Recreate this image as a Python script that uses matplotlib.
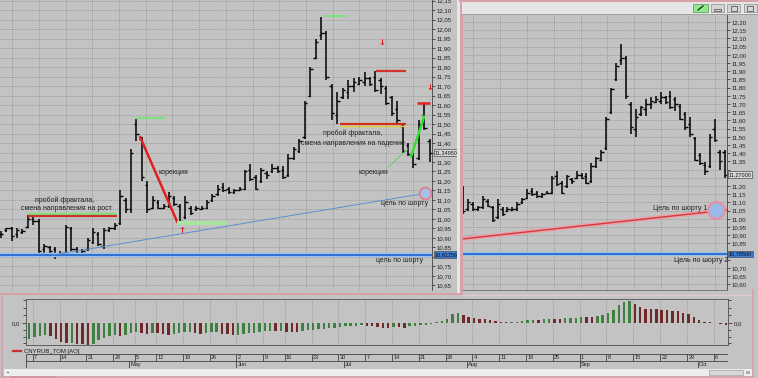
import matplotlib
matplotlib.use('Agg')
import matplotlib.pyplot as plt
from matplotlib.patches import Rectangle
from matplotlib.lines import Line2D
from matplotlib.transforms import blended_transform_factory
import numpy as np
import pandas as pd

plt.rcParams['font.family'] = ['Liberation Sans', 'DejaVu Sans']

# daily bars CNYRUB_TOM
opens = [10.92, 10.94, 10.95, 10.92, 10.93, 10.96, 11.00, 10.99, 10.84, 10.85,
         10.84, 10.81, 10.82, 10.95, 10.84, 10.82, 10.84, 10.88, 10.92, 10.86,
         10.94, 10.95, 10.98, 11.10, 11.05, 11.50, 11.42, 11.18, 11.06, 11.09,
         11.06, 11.07, 11.11, 11.07, 11.01, 11.06, 11.05, 11.055, 11.06, 11.10,
         11.13, 11.17, 11.16, 11.14, 11.155, 11.16, 11.26, 11.22, 11.20, 11.24,
         11.25, 11.27, 11.26, 11.23, 11.32, 11.36, 11.43, 11.65, 11.85, 11.97,
         11.98, 11.70, 11.55, 11.64, 11.67, 11.70, 11.71, 11.72, 11.74, 11.75,
         11.73, 11.69, 11.64, 11.58, 11.49, 11.39, 11.33, 11.32, 11.55, 11.41,
         11.41]
highs = [10.935, 10.955, 10.96, 10.955, 10.945, 11.02, 11.01, 11.00, 10.87, 10.86,
         10.85, 10.83, 10.97, 10.96, 10.85, 10.84, 10.90, 10.95, 10.93, 10.95,
         10.96, 10.98, 11.15, 11.11, 11.37, 11.53, 11.43, 11.20, 11.12, 11.10,
         11.08, 11.14, 11.12, 11.08, 11.12, 11.07, 11.07, 11.07, 11.10, 11.13,
         11.18, 11.19, 11.17, 11.16, 11.17, 11.26, 11.29, 11.23, 11.27, 11.25,
         11.29, 11.28, 11.28, 11.34, 11.38, 11.42, 11.62, 11.80, 11.95, 12.065,
         11.99, 11.71, 11.67, 11.69, 11.73, 11.74, 11.75, 11.775, 11.75, 11.78,
         11.74, 11.70, 11.65, 11.62, 11.50, 11.40, 11.345, 11.52, 11.61, 11.42,
         11.42]
lows = [10.90, 10.93, 10.885, 10.90, 10.92, 10.95, 10.97, 10.82, 10.82, 10.80,
        10.79, 10.80, 10.81, 10.83, 10.81, 10.81, 10.83, 10.87, 10.86, 10.84,
        10.93, 10.94, 10.97, 11.03, 11.03, 11.41, 11.20, 11.03, 11.05, 11.05,
        11.05, 11.06, 11.07, 10.98, 11.00, 11.02, 11.04, 11.045, 11.05, 11.09,
        11.12, 11.14, 11.13, 11.13, 11.15, 11.15, 11.20, 11.15, 11.19, 11.21,
        11.24, 11.24, 11.21, 11.22, 11.31, 11.35, 11.42, 11.64, 11.84, 11.94,
        11.73, 11.52, 11.50, 11.63, 11.63, 11.67, 11.705, 11.70, 11.70, 11.67,
        11.66, 11.60, 11.54, 11.50, 11.35, 11.33, 11.27, 11.31, 11.47, 11.30,
        11.25]
closes = [10.92, 10.95, 10.91, 10.94, 10.935, 11.00, 10.99, 10.83, 10.86, 10.83,
          10.81, 10.82, 10.96, 10.84, 10.82, 10.83, 10.89, 10.93, 10.87, 10.94,
          10.95, 10.97, 11.12, 11.05, 11.35, 11.45, 11.22, 11.05, 11.10, 11.06,
          11.07, 11.12, 11.08, 10.99, 11.09, 11.03, 11.06, 11.06, 11.09, 11.12,
          11.16, 11.15, 11.14, 11.15, 11.16, 11.25, 11.21, 11.16, 11.26, 11.23,
          11.27, 11.25, 11.22, 11.32, 11.37, 11.41, 11.61, 11.79, 11.93, 11.98,
          11.75, 11.56, 11.62, 11.68, 11.70, 11.72, 11.73, 11.74, 11.71, 11.68,
          11.70, 11.61, 11.56, 11.52, 11.36, 11.34, 11.29, 11.50, 11.48, 11.35,
          11.27]

# Awesome Oscillator, one value per trading day
ao = [-0.157, -0.140, -0.133, -0.123, -0.133, -0.157, -0.190, -0.200, -0.197, -0.207,
      -0.213, -0.223, -0.213, -0.173, -0.147, -0.133, -0.117, -0.133, -0.117, -0.100,
      -0.090, -0.100, -0.113, -0.100, -0.103, -0.107, -0.117, -0.107, -0.097, -0.090,
      -0.088, -0.100, -0.107, -0.100, -0.090, -0.087, -0.107, -0.113, -0.123, -0.117,
      -0.107, -0.100, -0.097, -0.090, -0.083, -0.080, -0.083, -0.080, -0.087, -0.090,
      -0.092, -0.080, -0.073, -0.067, -0.063, -0.057, -0.053, -0.047, -0.040, -0.033,
      -0.030, -0.027, -0.023, -0.027, -0.033, -0.040,
      -0.047, -0.049, -0.040, -0.043, -0.045, -0.033, -0.030, -0.023, -0.020, -0.013,
      0.010, 0.020, 0.043, 0.087, 0.100, 0.077, 0.060, 0.053, 0.043, 0.040,
      0.027, 0.020, 0.013, 0.007, 0.008, 0.010, 0.017, 0.033, 0.035, 0.033,
      0.037, 0.040, 0.039, 0.038, 0.053, 0.054, 0.055, 0.060, 0.059, 0.058,
      0.067, 0.077, 0.100, 0.133, 0.177, 0.210, 0.217, 0.187, 0.160, 0.143,
      0.142, 0.137, 0.133, 0.127, 0.120, 0.117, 0.100, 0.087, 0.060, 0.033,
      0.010, 0.007, 0.003, -0.007, -0.023]
holidays = ['2025-05-01', '2025-05-09', '2025-06-12']
dates = pd.bdate_range('2025-04-04', '2025-10-08', freq='C', holidays=holidays)

last_left, target_left = 11.34950, 10.81256
last_right, target_right = 11.27000, 10.78500

# trade marks on the left chart (bar index, price)
frac_up = (5, 21.5, 11.02)
frac_up2 = (24.7, 30.3, 11.53)
corr_down = ([25.7, 32.5], [11.43, 10.985])
low_mark = (32.5, 41.9, 10.98)
peak_mark = (59.4, 63.8, 12.07)
frac_top = (69.1, 74.6, 11.78)
frac_down = (62.5, 74.6, 11.495)
top_last = (76.7, 79.1, 11.61)
corr_up = ([75.6, 78.0], [11.33, 11.54])
corr_thin = ([71.3, 75.0], [11.27, 11.37])
trend_l = ([9.5, 78.2], [10.81, 11.135])
trend_r = ([26.8, 80.44], [10.877, 11.054])
circle_r = (78.2, 11.054)

BG = '#c3c3c3'
GRID = '#8e8e8e'
PINK = '#d8a0a8'
W, H = 758, 378

fig = plt.figure(figsize=(7.58, 3.78), dpi=100, facecolor=BG)


def rect(x0, y0, x1, y1):
    return [x0 / W, 1 - y1 / H, (x1 - x0) / W, (y1 - y0) / H]


def box(x0, y0, x1, y1, fc, ec='none', lw=0, z=1):
    fig.add_artist(Rectangle((x0 / W, 1 - y1 / H), (x1 - x0) / W, (y1 - y0) / H,
                             transform=fig.transFigure, fc=fc, ec=ec, lw=lw, zorder=z))


def fline(xs, ys, color, lw):
    fig.add_artist(Line2D([x / W for x in xs], [1 - y / H for y in ys],
                          transform=fig.transFigure, color=color, lw=lw))


def ftext(x, y, s, size=5, ha='center', color='#202020'):
    fig.text(x / W, 1 - y / H, s, fontsize=size, ha=ha, va='center', color=color)


def ohlc(ax, x, tick):
    ax.vlines(x, lows, highs, color='black', lw=1.1)
    ax.hlines(opens, x - tick, x, color='black', lw=1.0)
    ax.hlines(closes, x, x + tick, color='black', lw=1.0)


def style_price(ax, ylim, ticks, tags, gap):
    ax.set_facecolor(BG)
    ax.set_ylim(*ylim)
    ax.yaxis.tick_right()
    ax.set_yticks(ticks)
    # labels hidden under the price tags
    labels = ['' if min(abs(t - v) for v in tags) < gap else f'{t:.2f}'.replace('.', ',')
              for t in ticks]
    ax.set_yticklabels(labels)
    ax.tick_params(axis='y', labelsize=4.3, length=2, width=0.5, pad=1.5, colors='#202020')
    ax.tick_params(axis='x', bottom=False, labelbottom=False)
    for s in ['top', 'left', 'bottom']:
        ax.spines[s].set_visible(False)
    ax.spines['right'].set_color('#404040')
    ax.spines['right'].set_linewidth(0.6)
    ax.grid(axis='y', color=GRID, ls=(0, (1.5, 1.5)), lw=0.5)


def price_tag(ax, y, txt, fc):
    tr = blended_transform_factory(ax.transAxes, ax.transData)
    ax.text(1.006, y, txt, transform=tr, fontsize=4, color='#101010', va='center', ha='left',
            bbox=dict(boxstyle='square,pad=0.15', fc=fc, ec='#505050', lw=0.5),
            zorder=6, clip_on=False)


n = len(opens)
xs = np.arange(n)

# ---------- left chart ----------
ax1 = fig.add_axes(rect(0, 0, 432, 290))
style_price(ax1, (10.626, 12.153), np.round(np.arange(10.65, 12.151, 0.05), 2),
            [last_left, target_left], 0.036)
ax1.set_xlim(-0.13, 79.43)
for gx in np.arange(2.1, 79, 4.92):
    ax1.axvline(gx, color=GRID, ls=(0, (1.5, 1.5)), lw=0.5)
ohlc(ax1, xs, 0.45)

ax1.axhline(target_left, color='#9cc0ec', lw=3.2, zorder=3)
ax1.axhline(target_left, color='#2f6fd0', lw=1.4, zorder=3)
ax1.plot(*trend_l, color='#5b8fd0', lw=0.7, zorder=3)
ax1.plot(trend_l[0][1], trend_l[1][1], 'o', ms=8.5, mfc='#a8c0e8', mec='#e07a8c', mew=1.2, zorder=4)

a, b, lv = frac_up
ax1.hlines(lv + 0.008, a, b, color='#7fe07f', lw=1.6, zorder=3)
ax1.hlines(lv - 0.006, a, b, color='#d03030', lw=1.6, zorder=3)
a, b, lv = frac_up2
ax1.hlines(lv, a, b, color='#7fe07f', lw=1.6, zorder=3)
ax1.plot(*corr_down, color='#e02020', lw=1.8, zorder=3)
a, b, lv = low_mark
ax1.hlines(lv, a, b, color='#a8e4a0', lw=3.0, zorder=3)
a, b, lv = peak_mark
ax1.hlines(lv, a, b, color='#7fe07f', lw=1.4, zorder=3)
a, b, lv = frac_top
ax1.hlines(lv + 0.005, a, b, color='#9ae08a', lw=1.0, zorder=3)
ax1.hlines(lv - 0.002, a, b, color='#d83030', lw=1.6, zorder=3)
a, b, lv = frac_down
ax1.hlines(lv + 0.004, a, b, color='#d03020', lw=1.6, zorder=3)
ax1.hlines(lv - 0.006, a, b, color='#e0d040', lw=1.0, zorder=3)
a, b, lv = top_last
ax1.hlines(lv, a, b, color='#e02020', lw=1.8, zorder=3)
ax1.plot(*corr_thin, color='#60d060', lw=0.6, zorder=3)
ax1.plot(*corr_up, color='#30e030', lw=1.8, zorder=3)

ax1.text(33.4, 10.94, '↑', color='#e02020', fontsize=6, ha='center', va='center',
         family='DejaVu Sans', fontweight='bold')
ax1.text(70.2, 11.93, '↓', color='#e02020', fontsize=6, ha='center', va='center',
         family='DejaVu Sans', fontweight='bold')
ax1.text(79.1, 11.69, '↓', color='#e02020', fontsize=6, ha='center', va='center',
         family='DejaVu Sans', fontweight='bold', clip_on=False)

price_tag(ax1, last_left, f'{last_left:.5f}'.replace('.', ','), '#d8d8d8')
price_tag(ax1, target_left, f'{target_left:.5f}'.replace('.', ','), '#3a7ad8')

ftext(65, 200, 'пробой фрактала,')
ftext(66, 209, 'смена направления на рост')
ftext(173, 172, 'корекция')
ftext(353, 133, 'пробой фрактала,')
ftext(353, 143, 'смена направления на падение')
ftext(373, 173, 'корекция')
ftext(405, 203, 'цель по шорту')
ftext(400, 260, 'цель по шорту')

# ---------- right chart ----------
ax2 = fig.add_axes(rect(462, 15, 727, 290))
style_price(ax2, (10.566, 12.243), np.round(np.arange(10.60, 12.201, 0.05), 2),
            [last_right, target_right], 0.04)
ax2.spines['bottom'].set_visible(True)
ax2.spines['bottom'].set_color('#707070')
ax2.spines['bottom'].set_linewidth(0.6)
ax2.set_xlim(26.8, 80.44)
for px in [473, 500, 527, 554, 581, 607, 634, 661, 688, 715]:
    ax2.axvline(27 + (px - 463) / 4.94, color=GRID, ls=(0, (1.5, 1.5)), lw=0.5)
ohlc(ax2, xs, 0.5)
ax2.axhline(target_right, color='#9cc0ec', lw=3.2, zorder=3)
ax2.axhline(target_right, color='#2f6fd0', lw=1.4, zorder=3)
ax2.plot(*trend_r, color='#eaa0a6', lw=3.0, zorder=3)
ax2.plot(*trend_r, color='#d03a40', lw=1.0, zorder=3)
ax2.plot(*circle_r, 'o', ms=12, mfc='#9ab8e8', mec='#e890a0', mew=1.5, zorder=4)
price_tag(ax2, last_right, f'{last_right:.5f}'.replace('.', ','), '#d8d8d8')
price_tag(ax2, target_right, f'{target_right:.5f}'.replace('.', ','), '#3a7ad8')
ftext(707, 209, 'Цель по шорту 1', ha='right')
ftext(701, 261, 'Цель по шорту 2')

# window frames
box(457, 0, 460, 293, '#e6e6e6')
box(460, 0, 462.5, 294, PINK)
box(462, 1, 758, 14, '#e6e6e6')
fline([460, 758], [0.6, 0.6], PINK, 1.5)
fline([462, 758], [14.2, 14.2], '#9a9a9a', 0.6)
box(693, 4, 708, 12, '#90e890', ec='#5c8c5c', lw=0.5)
fline([698, 703], [10, 6], '#204020', 1.0)
for bx in [711, 727, 744]:
    box(bx, 4, bx + 12.5, 12, '#d6d6d6', ec='#8a8a8a', lw=0.5)
box(714, 8.5, 721, 10.5, 'none', ec='#404040', lw=0.5)
box(731, 6, 737, 10.5, 'none', ec='#404040', lw=0.5)
box(747, 6, 753, 10.5, 'none', ec='#404040', lw=0.5)
fline([0, 462], [293.8, 293.8], PINK, 1.5)
fline([462, 752], [294.5, 294.5], '#e4c8cc', 1.0)
fline([2, 2], [294, 377], PINK, 1.2)
fline([752.5, 752.5], [290, 377], PINK, 1.2)
fline([2, 752.5], [376.8, 376.8], PINK, 1.2)
box(10, 375.5, 57, 378, '#c06874')

# ---------- AO pane ----------
m = min(len(ao), len(dates))
k = np.arange(m)
vals = np.array(ao[:m])
up = np.r_[True, vals[1:] > vals[:-1]]
colors = np.where(up, '#3f7f3f', '#6e2a2a')

ax3 = fig.add_axes(rect(26, 299, 728, 345))
ax3.set_facecolor(BG)
ax3.bar(k, vals, width=0.45, color=colors, zorder=3)
ax3.set_xlim(-0.56, m - 1 + 0.37)
ax3.set_ylim(-0.22, 0.24)
ax3.set_xticks([])
ax3.set_yticks([0])
ax3.set_yticklabels(['0,0'])
ax3.set_yticks([-0.20, -0.14, -0.07, 0.08, 0.15, 0.23], minor=True)
ax3.tick_params(axis='y', which='both', left=True, right=True, labelleft=True, labelright=True,
                labelsize=4.3, length=2, width=0.5, pad=1.5, colors='#202020')
ax3.tick_params(axis='y', which='major', length=3)
for s in ax3.spines.values():
    s.set_color('#505050')
    s.set_linewidth(0.6)

d = dates[:m]
week_starts = [i for i in range(1, m) if d[i].weekday() < d[i - 1].weekday()]
month_starts = [i for i in range(1, m) if d[i].month != d[i - 1].month]
for i in week_starts:
    ax3.axvline(i - 0.3, color=GRID, ls=(0, (1.5, 1.5)), lw=0.5, zorder=1)

# legend
fline([13, 21], [351, 351], '#c83030', 1.6)
ftext(24, 351, 'CNYRUB_TOM [AO]', size=4.3, ha='left')

# date axis
ax4 = fig.add_axes(rect(26, 354, 728, 368))
ax4.set_facecolor(BG)
ax4.set_xlim(ax3.get_xlim())
ax4.set_ylim(0, 2)
ax4.axis('off')
ax4.hlines([0.05, 1, 1.95], -0.56, m - 1 + 0.37, color='#404040', lw=0.6)
ax4.vlines([-0.5], 0, 2, color='#404040', lw=0.6)
for i in week_starts:
    ax4.vlines(i - 0.3, 1, 2, color='#404040', lw=0.6)
    ax4.text(i - 0.05, 1.5, str(d[i].day), fontsize=4, ha='left', va='center', color='#202020')
for i in month_starts:
    ax4.vlines(i - 0.3, 0, 1, color='#404040', lw=0.6)
    ax4.text(i - 0.05, 0.5, d[i].strftime('%b'), fontsize=4, ha='left', va='center', color='#202020')

# scroll bar
box(4, 369, 752, 375.5, '#ededed', z=0)
box(709, 369.8, 743, 374.7, '#d8d8d8', ec='#a0a0a0', lw=0.5)
box(746, 370.5, 750, 374, '#b0b0b0')
box(7, 371.5, 9, 373, '#606060')

fig.savefig('out.png', dpi=100, facecolor=BG)
